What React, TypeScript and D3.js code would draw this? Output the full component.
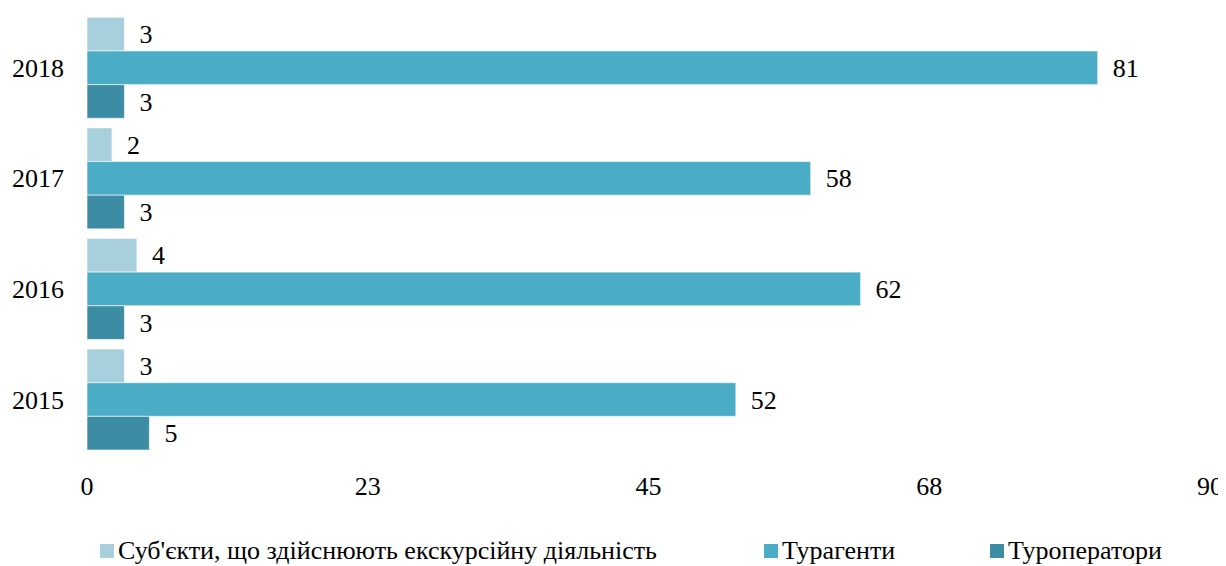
import React from "react";
import * as d3 from "d3";

const years = ["2018", "2017", "2016", "2015"];
const seriesNames = [
  "Суб'єкти, що здійснюють екскурсійну діяльність",
  "Турагенти",
  "Туроператори",
];
const excursion = [3, 2, 4, 3];
const agents = [81, 58, 62, 52];
const operators = [3, 3, 3, 5];
const tickValues = [0, 22.5, 45, 67.5, 90];
const tickLabels = ["0", "23", "45", "68", "90"];
const colors = ["#a8cfdc", "#4bacc6", "#3c8ca3"];

const W = 1226;
const H = 566;
const FF = '"Liberation Serif"';

export default function App() {
  const x = d3.scaleLinear().domain([0, 90]).range([87, 1210]);
  const y = d3
    .scaleBand<string>()
    .domain(years)
    .range([12.5, 454.8])
    .paddingInner(0.087)
    .paddingOuter(0.0435);
  const sub = d3
    .scaleBand<string>()
    .domain(seriesNames)
    .range([0, y.bandwidth()]);
  const values = [excursion, agents, operators];
  const legendX = [100, 764, 990];

  const texts: { key: string; x: number; y: number; t: string; anchor: string; mid: boolean }[] = [];
  years.forEach((yr, i) => {
    const gy = y(yr)!;
    seriesNames.forEach((s, j) => {
      const v = values[j][i];
      texts.push({ key: "l" + yr + j, x: x(v) + 15, y: gy + sub(s)! + sub.bandwidth() / 2, t: String(v), anchor: "start", mid: true });
    });
    texts.push({ key: "y" + yr, x: 64, y: gy + y.bandwidth() / 2, t: yr, anchor: "end", mid: true });
  });
  tickValues.forEach((tv, i) => {
    texts.push({ key: "t" + i, x: x(tv), y: 495, t: tickLabels[i], anchor: "middle", mid: false });
  });
  seriesNames.forEach((s, j) => {
    texts.push({ key: "n" + j, x: legendX[j] + 18, y: 559, t: s, anchor: "start", mid: false });
  });

  return (
    <svg width={W} height={H} style={{ display: "block", margin: "-8px 0 0 -8px" }}>
      <rect x={0} y={0} width={W} height={H} fill="#fff" />
      {years.map((yr, i) => {
        const gy = y(yr)!;
        return seriesNames.map((s, j) => {
          const v = values[j][i];
          return (
            <rect
              key={yr + s}
              x={x(0)}
              y={gy + sub(s)!}
              width={x(v) - x(0)}
              height={sub.bandwidth()}
              fill={colors[j]}
              stroke="#ffffff"
              strokeOpacity={0.6}
              strokeWidth={1}
            />
          );
        });
      })}
      {seriesNames.map((s, j) => (
        <rect key={"r" + s} x={legendX[j]} y={544} width={14} height={14} fill={colors[j]} />
      ))}
      {texts.map((d) => (
        <text
          key={d.key}
          x={d.x}
          y={d.y}
          dy={d.mid ? "0.35em" : undefined}
          textAnchor={d.anchor}
          fontSize={26}
          style={{ fontFamily: FF }}
        >
          {d.t}
        </text>
      ))}
    </svg>
  );
}
